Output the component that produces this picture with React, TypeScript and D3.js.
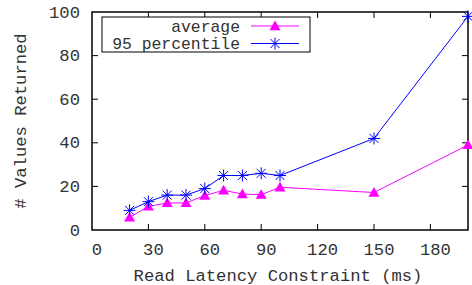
import React from "react";
import * as d3 from "d3";

const xValues = [20, 30, 40, 50, 60, 70, 80, 90, 100, 150, 200];
const averageValues = [5.8, 10.8, 12.4, 12.4, 15.8, 18.2, 16.5, 16.2, 19.6, 17.2, 39];
const p95Values = [9, 13, 16, 16, 19, 25, 25, 26, 25, 42, 98];
const xTicks = [0, 30, 60, 90, 120, 150, 180];
const yTicks = [0, 20, 40, 60, 80, 100];
const seriesNames = ["average", "95 percentile"];

const W = 472, H = 285;
const M = { left: 92, right: 468, top: 12, bottom: 230 };
const FONT = "'Liberation Mono', 'DejaVu Sans Mono', monospace";
const FS = 17.2;
const LFS = 16.4;

function Triangle({ x, y, color }: { x: number; y: number; color: string }) {
  const s = 5.5;
  return <path d={`M${x},${y - s}L${x + s},${y + s * 0.75}L${x - s},${y + s * 0.75}Z`} fill={color} />;
}
function Star({ x, y, color }: { x: number; y: number; color: string }) {
  const s = 6;
  const d = 4.5;
  return (
    <path
      d={`M${x - s},${y}L${x + s},${y}M${x},${y - s}L${x},${y + s}M${x - d},${y - d}L${x + d},${y + d}M${x - d},${y + d}L${x + d},${y - d}`}
      stroke={color}
      strokeWidth={1}
      fill="none"
    />
  );
}

export default function App() {
  const x = d3.scaleLinear().domain([0, 200]).range([M.left, M.right]);
  const y = d3.scaleLinear().domain([0, 100]).range([M.bottom, M.top]);
  const line = d3
    .line<number>()
    .x((_, i) => x(xValues[i]))
    .y((v) => y(v));
  const avgColor = "#ff00ff";
  const p95Color = "#0000ff";
  const tl = 6;
  return (
    <svg width={W} height={H} style={{ position: "absolute", left: 0, top: 0 }}>
      <rect width={W} height={H} fill="#fff" />
      {xTicks.map((t) => (
        <g key={"x" + t}>
          {t > 0 && <line x1={x(t)} x2={x(t)} y1={M.bottom} y2={M.bottom - tl} stroke="#000" />}
          {t > 0 && <line x1={x(t)} x2={x(t)} y1={M.top} y2={M.top + tl} stroke="#000" />}
          <text x={x(t) + 5} y={255} textAnchor="middle" fontFamily={FONT} fontSize={FS} fill="#333">
            {t}
          </text>
        </g>
      ))}
      {yTicks.map((t) => (
        <g key={"y" + t}>
          {t > 0 && t < 100 && <line x1={M.left} x2={M.left + tl} y1={y(t)} y2={y(t)} stroke="#000" />}
          {t > 0 && t < 100 && <line x1={M.right} x2={M.right - tl} y1={y(t)} y2={y(t)} stroke="#000" />}
          <text x={80} y={y(t) + 5.5} textAnchor="end" fontFamily={FONT} fontSize={FS} fill="#333">
            {t}
          </text>
        </g>
      ))}
      <rect x={M.left} y={M.top} width={M.right - M.left} height={M.bottom - M.top} fill="none" stroke="#000" strokeWidth={1.5} />
      <path d={line(averageValues) || ""} fill="none" stroke={avgColor} strokeWidth={1} />
      <path d={line(p95Values) || ""} fill="none" stroke={p95Color} strokeWidth={1} />
      {averageValues.map((v, i) => (
        <Triangle key={"a" + i} x={x(xValues[i])} y={y(v)} color={avgColor} />
      ))}
      {p95Values.map((v, i) => (
        <Star key={"p" + i} x={x(xValues[i])} y={y(v)} color={p95Color} />
      ))}
      <rect x={102} y={17} width={208} height={35} fill="#fff" stroke="#000" strokeWidth={1} />
      <text x={240} y={31.5} textAnchor="end" fontFamily={FONT} fontSize={LFS} fill="#333">
        {seriesNames[0]}
      </text>
      <line x1={251} x2={299} y1={26} y2={26} stroke={avgColor} />
      <Triangle x={275} y={26} color={avgColor} />
      <text x={240} y={49} textAnchor="end" fontFamily={FONT} fontSize={LFS} fill="#333">
        {seriesNames[1]}
      </text>
      <line x1={251} x2={299} y1={43.5} y2={43.5} stroke={p95Color} />
      <Star x={275} y={43.5} color={p95Color} />
      <text x={278} y={281} textAnchor="middle" fontFamily={FONT} fontSize={FS} fill="#333">
        Read Latency Constraint (ms)
      </text>
      <text
        transform={`translate(26,${(M.top + M.bottom) / 2}) rotate(-90)`}
        textAnchor="middle"
        fontFamily={FONT}
        fontSize={FS}
        fill="#333"
      >
        # Values Returned
      </text>
    </svg>
  );
}
